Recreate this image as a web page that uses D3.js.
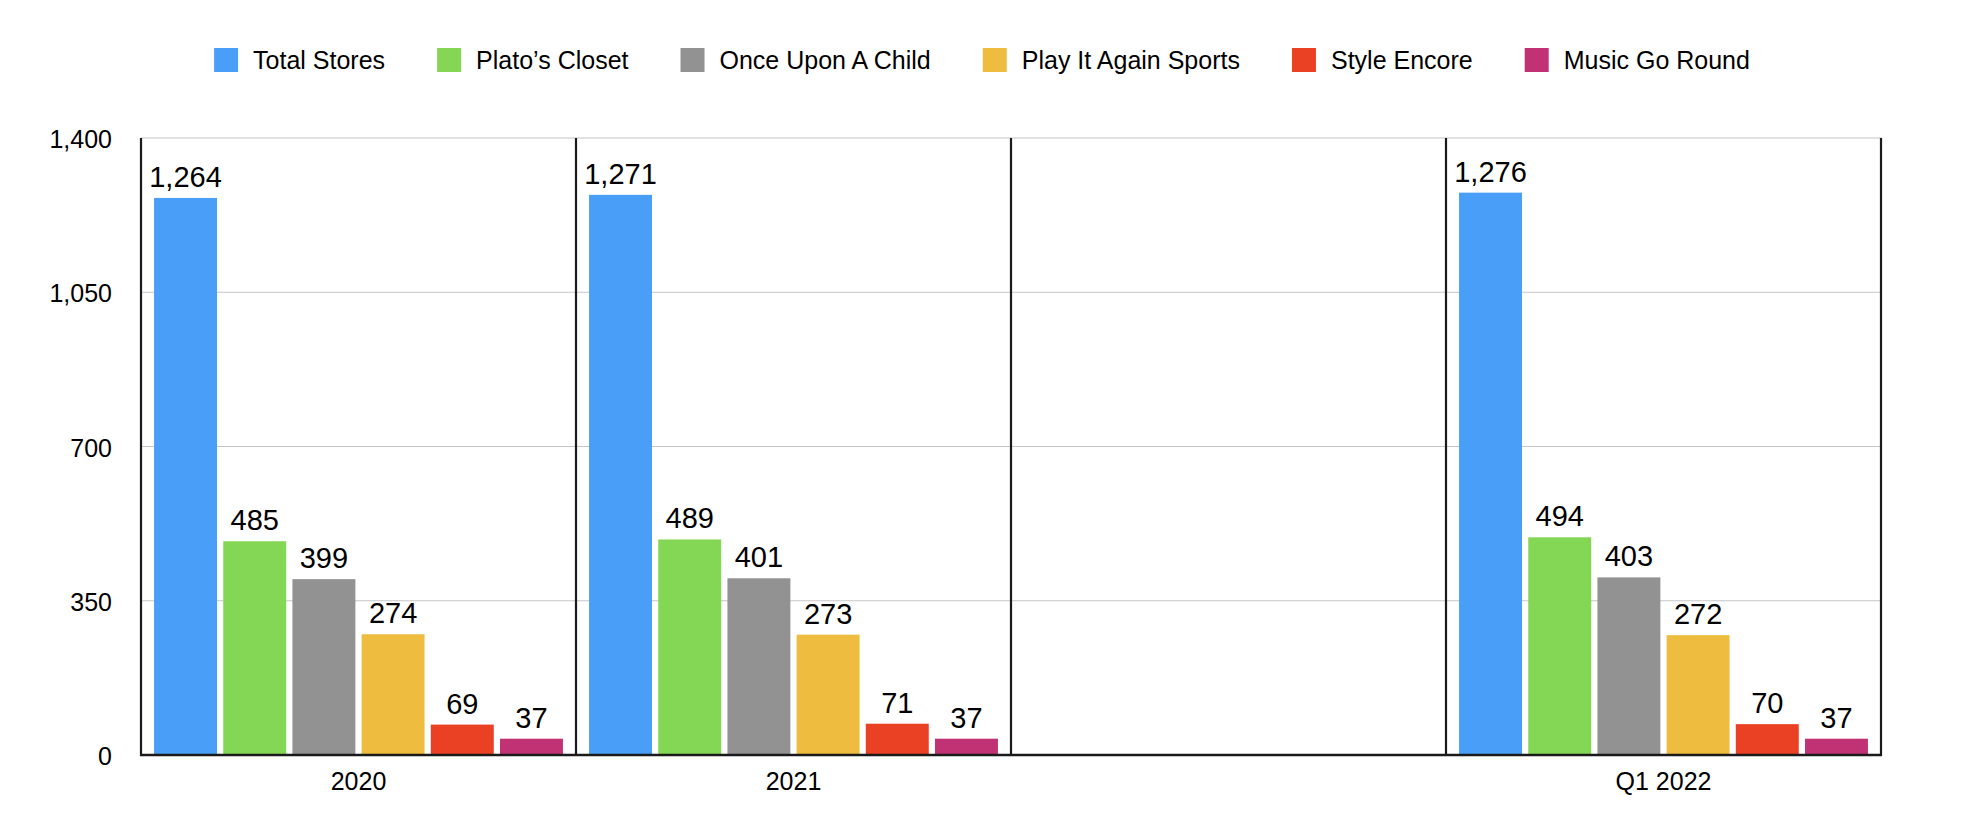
<!DOCTYPE html>
<html>
<head>
<meta charset="utf-8">
<script src="https://cdn.jsdelivr.net/npm/d3@7"></script>
<style>
  html, body { margin: 0; padding: 0; background: #fff; }
  svg { display: block; font-family: "Liberation Sans", Arial, Helvetica, sans-serif; }
</style>
</head>
<body>
<svg id="chart" width="1964" height="836"></svg>
<script>
const categories = ["2020", "2021", "", "Q1 2022"];
const seriesNames = ["Total Stores", "Plato’s Closet", "Once Upon A Child", "Play It Again Sports", "Style Encore", "Music Go Round"];
const seriesColors = ["#499FF7", "#84D754", "#929292", "#EEBD40", "#EA4125", "#C13274"];
const totalStores      = [1264, 1271, null, 1276];
const platosCloset     = [485, 489, null, 494];
const onceUponAChild   = [399, 401, null, 403];
const playItAgain      = [274, 273, null, 272];
const styleEncore      = [69, 71, null, 70];
const musicGoRound     = [37, 37, null, 37];
const seriesValues = [totalStores, platosCloset, onceUponAChild, playItAgain, styleEncore, musicGoRound];
const yTicks = [0, 350, 700, 1050, 1400];

const svg = d3.select("#chart");
const plotLeft = 141, plotRight = 1881, plotTop = 138, plotBottom = 755;

const x0 = d3.scaleBand().domain(d3.range(categories.length)).range([plotLeft, plotRight]).padding(0);
const bw = x0.bandwidth();
const x1 = d3.scaleBand().domain(d3.range(seriesNames.length))
  .range([bw * 0.03, bw * 0.97]).paddingInner(0.09).paddingOuter(0);
const y = d3.scaleLinear().domain([0, 1400]).range([plotBottom, plotTop]);

// gridlines
svg.append("g").selectAll("line").data(yTicks.filter(d => d > 0)).join("line")
  .attr("x1", plotLeft).attr("x2", plotRight)
  .attr("y1", d => y(d)).attr("y2", d => y(d))
  .attr("stroke", "#c6c6c6").attr("stroke-width", 1.2);

// y axis tick labels
const yAxis = d3.axisLeft(y).tickValues(yTicks).tickFormat(d3.format(",")).tickSize(0).tickPadding(29);
const gy = svg.append("g").attr("transform", `translate(${plotLeft},0)`).call(yAxis);
gy.select(".domain").remove();
gy.selectAll("text").attr("font-size", 25).attr("fill", "#000")
  .attr("font-family", "'Liberation Sans', Arial, sans-serif").attr("dy", "0.38em");

// bars
const groups = svg.append("g").selectAll("g").data(categories).join("g")
  .attr("transform", (d, i) => `translate(${x0(i)},0)`);

groups.each(function(cat, ci) {
  const g = d3.select(this);
  const data = seriesValues.map((arr, si) => ({ si, v: arr[ci] })).filter(d => d.v != null);
  g.selectAll("rect").data(data).join("rect")
    .attr("x", d => x1(d.si)).attr("width", x1.bandwidth())
    .attr("y", d => y(d.v)).attr("height", d => y(0) - y(d.v))
    .attr("fill", d => seriesColors[d.si]);
  g.selectAll("text.val").data(data).join("text").attr("class", "val")
    .attr("x", d => x1(d.si) + x1.bandwidth() / 2)
    .attr("y", d => y(d.v) - 11)
    .attr("text-anchor", "middle").attr("font-size", 29).attr("fill", "#000")
    .text(d => d3.format(",")(d.v));
});

// separators and axes
svg.append("g").selectAll("line").data(d3.range(categories.length + 1)).join("line")
  .attr("x1", i => i < categories.length ? x0(i) : plotRight)
  .attr("x2", i => i < categories.length ? x0(i) : plotRight)
  .attr("y1", plotTop).attr("y2", plotBottom + 1)
  .attr("stroke", "#1a1a1a").attr("stroke-width", 2.2);
svg.append("line").attr("x1", plotLeft - 1).attr("x2", plotRight + 1).attr("y1", plotBottom).attr("y2", plotBottom)
  .attr("stroke", "#1a1a1a").attr("stroke-width", 2.4);

// x labels
const xAxis = d3.axisBottom(x0).tickFormat(i => categories[i]).tickSize(0).tickPadding(17);
const gx = svg.append("g").attr("transform", `translate(0,${plotBottom})`).call(xAxis);
gx.select(".domain").remove();
gx.selectAll("text").attr("font-size", 25).attr("fill", "#000")
  .attr("font-family", "'Liberation Sans', Arial, sans-serif");

// legend
const legend = svg.append("g");
let cx = 0;
seriesNames.forEach((name, i) => {
  const it = legend.append("g").attr("transform", `translate(${cx},0)`);
  it.append("rect").attr("x", 0).attr("y", 48).attr("width", 24).attr("height", 24).attr("fill", seriesColors[i]);
  const t = it.append("text").attr("x", 39).attr("y", 69).attr("font-size", 25).attr("fill", "#000").text(name);
  const w = t.node().getComputedTextLength();
  cx += 39 + w + 52;
});
const totalW = cx - 52;
legend.attr("transform", `translate(${(1964 - totalW) / 2},0)`);
</script>
</body>
</html>
